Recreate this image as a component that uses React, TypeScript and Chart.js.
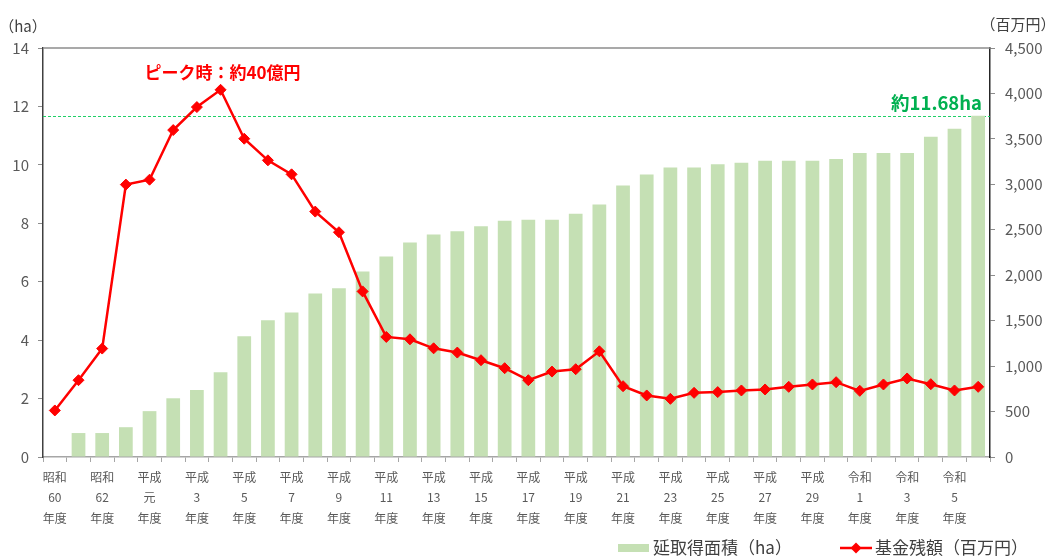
import React, { useEffect, useRef } from "react";
import { Chart, registerables } from "chart.js";

Chart.register(...registerables);

const FONT = '"Noto Sans CJK JP", "Noto Sans", sans-serif';

// Fiscal years 昭和60 (1985) .. 令和6 (2024)
const categories = [
  "昭和60年度", "昭和61年度", "昭和62年度", "昭和63年度",
  "平成元年度", "平成2年度", "平成3年度", "平成4年度", "平成5年度", "平成6年度",
  "平成7年度", "平成8年度", "平成9年度", "平成10年度", "平成11年度", "平成12年度",
  "平成13年度", "平成14年度", "平成15年度", "平成16年度", "平成17年度", "平成18年度",
  "平成19年度", "平成20年度", "平成21年度", "平成22年度", "平成23年度", "平成24年度",
  "平成25年度", "平成26年度", "平成27年度", "平成28年度", "平成29年度", "平成30年度",
  "令和1年度", "令和2年度", "令和3年度", "令和4年度", "令和5年度", "令和6年度",
];

const tickLabels: (string[] | string)[] = [
  ["昭和", "60", "年度"], "", ["昭和", "62", "年度"], "",
  ["平成", "元", "年度"], "", ["平成", "3", "年度"], "", ["平成", "5", "年度"], "",
  ["平成", "7", "年度"], "", ["平成", "9", "年度"], "", ["平成", "11", "年度"], "",
  ["平成", "13", "年度"], "", ["平成", "15", "年度"], "", ["平成", "17", "年度"], "",
  ["平成", "19", "年度"], "", ["平成", "21", "年度"], "", ["平成", "23", "年度"], "",
  ["平成", "25", "年度"], "", ["平成", "27", "年度"], "", ["平成", "29", "年度"], "",
  ["令和", "1", "年度"], "", ["令和", "3", "年度"], "", ["令和", "5", "年度"], "",
];

// 延取得面積 (ha)
const areaHa = [
  0, 0.82, 0.82, 1.02, 1.57, 2.01, 2.29, 2.9, 4.13, 4.68,
  4.95, 5.6, 5.78, 6.35, 6.86, 7.34, 7.62, 7.73, 7.9, 8.09,
  8.12, 8.12, 8.33, 8.64, 9.29, 9.67, 9.91, 9.91, 10.02, 10.07,
  10.14, 10.14, 10.14, 10.2, 10.41, 10.41, 10.41, 10.96, 11.24, 11.68,
];

// 基金残額 (百万円)
const fundBalance = [
  512, 845, 1193, 2997, 3051, 3597, 3850, 4040, 3502, 3264,
  3110, 2700, 2473, 1822, 1321, 1295, 1196, 1149, 1065, 977,
  845, 940, 966, 1163, 779, 677, 640, 706, 714, 732,
  743, 772, 798, 823, 728, 798, 864, 801, 732, 772,
];

const leftTicks = { min: 0, max: 14, step: 2 };
const rightTicks = { min: 0, max: 4500, step: 500 };

const targetHa = 11.68;
const targetLabel = "約11.68ha";
const peakLabel = "ピーク時：約40億円";
const leftTitle = "（ha）";
const rightTitle = "（百万円）";
const barLabel = "延取得面積（ha）";
const lineLabel = "基金残額（百万円）";

const BAR_COLOR = "#c5e0b4";
const LINE_COLOR = "#ff0000";

const overlayPlugin = {
  id: "overlay",
  beforeDatasetsDraw(chart: any) {
    const { ctx, chartArea, scales } = chart;
    const y = Math.round(scales.y.getPixelForValue(targetHa)) + 0.5;
    ctx.save();
    ctx.strokeStyle = "#1fd068";
    ctx.lineWidth = 1;
    ctx.setLineDash([3, 2]);
    ctx.beginPath();
    ctx.moveTo(chartArea.left, y);
    ctx.lineTo(chartArea.right, y);
    ctx.stroke();
    ctx.restore();
  },
  afterDraw(chart: any) {
    const { ctx, chartArea, scales } = chart;
    ctx.save();
    // top border
    ctx.strokeStyle = "#8c8c8c";
    ctx.lineWidth = 1.5;
    ctx.beginPath();
    ctx.moveTo(chartArea.left, chartArea.top);
    ctx.lineTo(chartArea.right, chartArea.top);
    ctx.stroke();

    // axis titles
    ctx.fillStyle = "#404040";
    ctx.font = `15px ${FONT}`;
    ctx.textBaseline = "middle";
    ctx.textAlign = "center";
    ctx.fillText(leftTitle, chartArea.left - 20, chartArea.top - 22);
    ctx.fillText(rightTitle, chartArea.right + 28, chartArea.top - 24);

    // peak annotation
    const maxVal = Math.max(...fundBalance);
    const peakIdx = fundBalance.indexOf(maxVal);
    const px = scales.x.getPixelForValue(peakIdx);
    const py = scales.y1.getPixelForValue(maxVal);
    ctx.fillStyle = "#ff0000";
    ctx.font = `bold 17px ${FONT}`;
    ctx.textAlign = "center";
    ctx.fillText(peakLabel, px + 2, py - 17);

    // target annotation
    const ty = scales.y.getPixelForValue(targetHa);
    ctx.fillStyle = "#00b050";
    ctx.font = `bold 18.5px ${FONT}`;
    ctx.textAlign = "right";
    ctx.fillText(targetLabel, chartArea.right - 8, ty - 13);

    // legend
    const ly = 548;
    const ds0 = chart.data.datasets[0];
    const ds1 = chart.data.datasets[1];
    ctx.font = `17px ${FONT}`;
    ctx.fillStyle = ds0.backgroundColor;
    ctx.fillRect(618, ly - 4, 31, 8);
    ctx.fillStyle = "#404040";
    ctx.textAlign = "left";
    ctx.fillText(ds0.label, 653, ly);

    ctx.strokeStyle = ds1.borderColor;
    ctx.lineWidth = 2.5;
    ctx.beginPath();
    ctx.moveTo(840, ly);
    ctx.lineTo(872, ly);
    ctx.stroke();
    ctx.fillStyle = ds1.pointBackgroundColor;
    ctx.beginPath();
    ctx.moveTo(856, ly - 5.5);
    ctx.lineTo(861.5, ly);
    ctx.lineTo(856, ly + 5.5);
    ctx.lineTo(850.5, ly);
    ctx.closePath();
    ctx.fill();
    ctx.fillStyle = "#404040";
    ctx.fillText(ds1.label, 875, ly);
    ctx.restore();
  },
};

export default function App() {
  const canvasRef = useRef<HTMLCanvasElement | null>(null);

  useEffect(() => {
    if (!canvasRef.current) return;
    Chart.defaults.font.family = FONT;
    const chart = new Chart(canvasRef.current, {
      type: "bar",
      data: {
        labels: categories,
        datasets: [
          {
            type: "bar",
            label: barLabel,
            data: areaHa,
            backgroundColor: BAR_COLOR,
            borderWidth: 0,
            yAxisID: "y",
            categoryPercentage: 1,
            barPercentage: 0.58,
            order: 2,
          } as any,
          {
            type: "line",
            label: lineLabel,
            data: fundBalance,
            borderColor: LINE_COLOR,
            backgroundColor: LINE_COLOR,
            pointBackgroundColor: LINE_COLOR,
            pointBorderColor: LINE_COLOR,
            pointStyle: "rectRot",
            pointRadius: 5.5,
            pointBorderWidth: 1,
            borderWidth: 2.5,
            tension: 0,
            yAxisID: "y1",
            order: 1,
          } as any,
        ],
      },
      options: {
        responsive: false,
        animation: false,
        devicePixelRatio: 1,
        layout: { padding: { top: 48, bottom: 24, left: 0, right: 0 } },
        plugins: {
          legend: { display: false },
          tooltip: { enabled: false },
        },
        scales: {
          x: {
            offset: true,
            grid: {
              offset: true,
              drawOnChartArea: false,
              drawTicks: true,
              tickLength: 5,
              color: "#a6a6a6",
            },
            border: { color: "#a6a6a6", width: 1.5 },
            ticks: {
              autoSkip: false,
              maxRotation: 0,
              minRotation: 0,
              padding: 5,
              color: "#595959",
              font: { size: 12, lineHeight: 1.7, family: FONT },
              callback: (_v: any, i: number) => tickLabels[i],
            },
            afterFit: (s: any) => {
              s.height = 75;
            },
          },
          y: {
            position: "left",
            min: leftTicks.min,
            max: leftTicks.max,
            grid: {
              drawOnChartArea: false,
              drawTicks: true,
              tickLength: 5,
              color: "#8c8c8c",
            },
            border: { color: "#404040", width: 1.5 },
            ticks: {
              stepSize: leftTicks.step,
              padding: 9,
              color: "#595959",
              font: { size: 15, family: FONT },
            },
            afterFit: (s: any) => {
              s.width = 43;
            },
          },
          y1: {
            position: "right",
            min: rightTicks.min,
            max: rightTicks.max,
            grid: {
              drawOnChartArea: false,
              drawTicks: true,
              tickLength: 5,
              color: "#8c8c8c",
            },
            border: { color: "#262626", width: 1.5 },
            ticks: {
              stepSize: rightTicks.step,
              padding: 10,
              color: "#595959",
              font: { size: 15, family: FONT },
              callback: (v: any) => Number(v).toLocaleString("en-US"),
            },
            afterFit: (s: any) => {
              s.width = 62;
            },
          },
        },
      },
      plugins: [overlayPlugin],
    });
    return () => chart.destroy();
  }, []);

  return (
    <div style={{ position: "fixed", left: 0, top: 0, width: 1052, height: 556, background: "#fff" }}>
      <canvas ref={canvasRef} width={1052} height={556} style={{ display: "block", width: 1052, height: 556 }} />
    </div>
  );
}
